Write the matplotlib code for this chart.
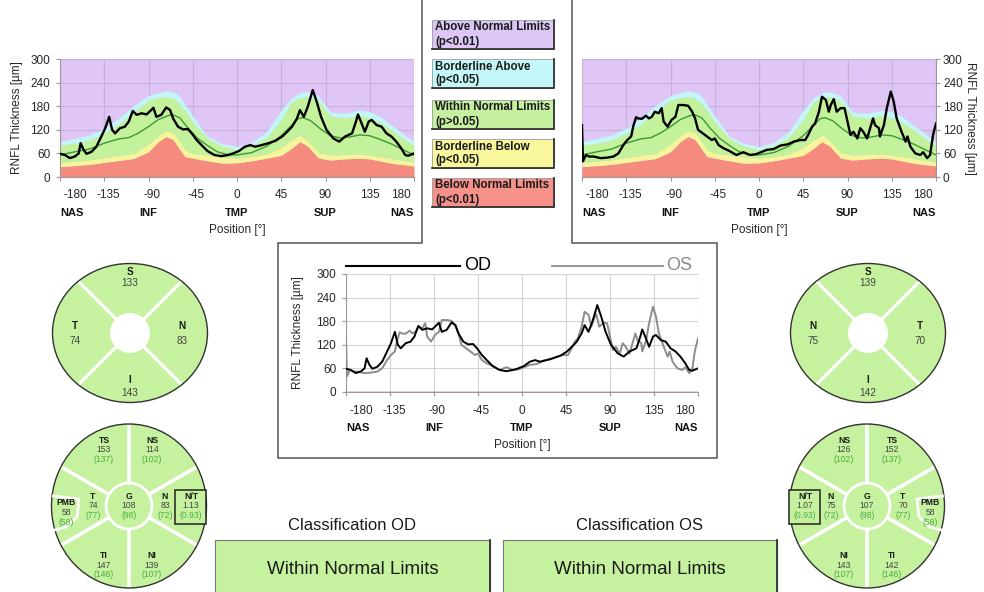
import numpy as np
import matplotlib
matplotlib.use('Agg')
import matplotlib.pyplot as plt
from matplotlib.patches import Ellipse, Rectangle, Circle

plt.rcParams['font.family'] = ['Liberation Sans', 'DejaVu Sans']

# ---------------- data ----------------
ang_ticks = [-180, -135, -90, -45, 0, 45, 90, 135, 180]
ang_tick_labels = ['-180', '-135', '-90', '-45', '0', '45', '90', '135', '180']
region_pos = [-180, -90, 0, 90, 180]
region_names = ['NAS', 'INF', 'TMP', 'SUP', 'NAS']
y_ticks = [0, 60, 120, 180, 240, 300]

norm_deg = [-180, -165, -150, -135, -120, -105, -90, -80, -72, -65, -60, -53, -45, -30, -15,
            0, 15, 30, 45, 55, 64, 72, 83, 95, 110, 125, 135, 145, 157, 170, 180]
p1 = [26, 29, 32, 37, 42, 47, 64, 90, 103, 95, 77, 52, 48, 41, 35,
      36, 41, 48, 55, 72, 90, 78, 48, 43, 46, 48, 46, 41, 35, 31, 28]
p5 = [37, 40, 44, 49, 55, 60, 84, 105, 118, 112, 98, 70, 60, 56, 50,
      48, 52, 58, 75, 93, 107, 92, 62, 56, 57, 58, 56, 52, 47, 42, 38]
p95 = [81, 86, 94, 111, 135, 165, 195, 202, 204, 200, 190, 170, 140, 98, 78,
       69, 80, 100, 145, 190, 202, 204, 193, 155, 150, 156, 150, 140, 120, 96, 81]
p99 = [90, 98, 107, 124, 150, 182, 207, 214, 219, 216, 210, 185, 155, 103, 85,
       77, 88, 115, 170, 200, 214, 217, 206, 165, 162, 170, 166, 155, 132, 108, 90]

mean_deg = [-180, -165, -150, -135, -120, -110, -100, -90, -80, -70, -65, -58, -50, -40, -30,
            -20, -10, 0, 15, 30, 45, 55, 62, 67, 75, 85, 95, 105, 115, 125, 135, 145, 157, 170, 180]
mean_val = [56, 64, 71, 86, 97, 100, 112, 128, 146, 156, 158, 150, 125, 98, 80,
            64, 57, 56, 62, 78, 105, 130, 148, 151, 143, 122, 105, 99, 102, 107, 105, 96, 84, 68, 56]

od_deg = [-180, -175, -170, -165, -161, -159, -156, -153, -148, -143, -138, -134, -130, -127, -124,
          -119, -114, -110, -106, -102, -97, -92, -89, -85, -82, -77, -72, -68, -65, -60,
          -55, -50, -46, -41, -36, -30, -23, -16, -9, -5, 2, 8, 13.5, 18.6, 25,
          32, 39, 46, 51, 56, 61, 64, 68, 72, 77, 81, 85.5, 91, 98, 104,
          110, 117, 121, 123, 126, 130, 134, 137, 142, 147, 152, 157, 162, 167, 171, 174, 180]
od_val = [59, 56, 48, 52, 60, 86, 69, 59, 64, 77, 103, 124, 153, 120, 111,
          124, 128, 141, 168, 158, 162, 159, 166, 176, 153, 158, 177, 170, 149, 128,
          121, 122, 111, 94, 81, 66, 56, 53, 56, 59, 66, 77, 81, 77, 81,
          86, 92, 103, 115, 128, 149, 170, 153, 179, 221, 192, 153, 120, 98, 90,
          103, 111, 141, 159, 141, 115, 141, 145, 132, 128, 111, 103, 90, 73, 56, 54, 60]

os_deg = [-180, -179, -176, -173, -168, -161, -155, -148, -143, -138, -134, -130, -128, -125, -123,
          -119, -115, -112, -109, -106, -102, -99, -97, -93, -89, -85, -82, -77, -72, -68,
          -65, -62, -55, -48, -45, -41, -36, -30, -23, -16, -9, -3, 2, 8, 15,
          22, 29, 35.5, 42, 47, 50, 54, 57, 61, 64, 68, 71, 73, 76, 79,
          83, 87, 90, 93, 96, 100, 103, 106, 110, 113, 116, 118, 122, 123, 127,
          130, 134, 137, 140, 145, 149, 151, 154, 159, 164, 167, 171, 174, 177, 180]
os_val = [132, 40, 56, 52, 52, 48, 49, 52, 60, 81, 94, 103, 128, 152, 149,
          148, 156, 149, 153, 166, 162, 175, 141, 128, 145, 153, 183, 183, 181, 166,
          149, 120, 107, 94, 98, 81, 73, 66, 56, 63, 56, 58, 63, 69, 71,
          80, 83, 90, 94, 94, 107, 128, 136, 166, 204, 196, 166, 183, 198, 166,
          175, 175, 141, 107, 115, 98, 124, 115, 98, 124, 149, 132, 124, 103, 132,
          175, 217, 192, 149, 115, 90, 103, 77, 60, 56, 63, 48, 56, 107, 136]

legend_titles = ['Above Normal Limits', 'Borderline Above', 'Within Normal Limits',
                 'Borderline Below', 'Below Normal Limits']
legend_pvals = ['(p<0.01)', '(p<0.05)', '(p>0.05)', '(p<0.05)', '(p<0.01)']

od_quad_labels = ['S', 'T', 'N', 'I']          # top, left, right, bottom
od_quad_vals = ['133', '74', '83', '143']
os_quad_labels = ['S', 'N', 'T', 'I']
os_quad_vals = ['139', '75', '70', '142']

sector_names = ['TS', 'NS', 'T', 'G', 'N', 'TI', 'NI', 'PMB', 'N/T']
od_sector_vals = ['153', '114', '74', '108', '83', '147', '139', '58', '1.13']
od_sector_norm = ['(137)', '(102)', '(77)', '(98)', '(72)', '(146)', '(107)', '(58)', '(0.93)']
os_sector_vals = ['152', '126', '70', '107', '75', '142', '143', '58', '1.07']
os_sector_norm = ['(137)', '(102)', '(77)', '(98)', '(72)', '(146)', '(107)', '(58)', '(0.93)']

class_titles = ['Classification OD', 'Classification OS']
class_results = ['Within Normal Limits', 'Within Normal Limits']

# ---------------- style ----------------
W, H = 984, 592
PT = 0.72
C_PURPLE = '#dfc6f6'
C_CYAN = '#c3f6f6'
C_GREEN = '#c4f19c'
C_YELLOW = '#f6f59a'
C_RED = '#f58a7e'
C_SECT = '#c6f2a0'
C_NORMTXT = '#4cae44'
TXT = '#262626'
legend_colors = ['#dcc6f6', '#c4f7f7', '#c4f0a0', '#f8f79c', '#f7928a']

fig = plt.figure(figsize=(9.84, 5.92), dpi=100)
bg = fig.add_axes([0, 0, 1, 1])
bg.set_xlim(0, W)
bg.set_ylim(H, 0)
bg.axis('off')


def rect_px(x0, y0, x1, y1):
    return [x0 / W, 1 - y1 / H, (x1 - x0) / W, (y1 - y0) / H]


label_dx = {'-180': 15, '-135': 4, '-90': 3, '-45': 3, '180': -13}


def rnfl_axes(rect, right=False, bands=True):
    ax = fig.add_axes(rect)
    ax.set_xlim(-180, 180)
    ax.set_ylim(0, 300)
    ax.set_facecolor(C_PURPLE if bands else 'white')
    ax.set_axisbelow(True)
    ax.set_xticks(ang_ticks)
    ax.set_xticklabels([])
    ax.set_yticks(y_ticks)
    ax.grid(True, color='#c5b3d8' if bands else '#d4d4d4', lw=0.8)
    for s in ['top', 'right', 'left', 'bottom']:
        ax.spines[s].set_visible(False)
    ax.spines['bottom'].set_visible(True)
    ax.spines['bottom'].set_color('#999999')
    side = 'right' if right else 'left'
    ax.spines[side].set_visible(True)
    ax.spines[side].set_color('#999999')
    ax.tick_params(axis='x', length=3, color='#999999', width=0.8)
    ax.tick_params(axis='y', length=3, color='#999999', width=0.8, labelsize=8.5,
                   labelcolor=TXT, pad=2 if right else 4)
    if right:
        ax.yaxis.tick_right()
    for d, t in zip(ang_ticks, ang_tick_labels):
        ax.annotate(t, xy=(d, 0), xycoords=('data', 'axes fraction'),
                    xytext=(label_dx.get(t, 0) * PT, -18.5 * PT), textcoords='offset points',
                    ha='center', va='center', fontsize=8.5, color=TXT)
    for d, t in zip(region_pos, region_names):
        ha = 'left' if d == -180 else ('right' if d == 180 else 'center')
        ax.annotate(t, xy=(d, 0), xycoords=('data', 'axes fraction'),
                    xytext=(0, -36 * PT), textcoords='offset points',
                    ha=ha, va='center', fontsize=8, fontweight='bold', color='#111111')
    ax.annotate('Position [°]', xy=(0, 0), xycoords=('data', 'axes fraction'),
                xytext=(0, -53 * PT), textcoords='offset points',
                ha='center', va='center', fontsize=8.5, color=TXT)
    return ax


def add_bands(ax, curve_deg, curve_val):
    ax.fill_between(norm_deg, 0, p1, color=C_RED, lw=0, zorder=1)
    ax.fill_between(norm_deg, p1, p5, color=C_YELLOW, lw=0, zorder=1)
    ax.fill_between(norm_deg, p5, p95, color=C_GREEN, lw=0, zorder=1)
    ax.fill_between(norm_deg, p95, p99, color=C_CYAN, lw=0, zorder=1)
    ax.plot(mean_deg, mean_val, color='#3a9a34', lw=1.0, zorder=2)
    ax.plot(curve_deg, curve_val, color='black', lw=1.7, zorder=3)


# top-left (OD)
axL = rnfl_axes(rect_px(60, 59, 414, 177))
add_bands(axL, od_deg, od_val)
axL.annotate('RNFL Thickness [µm]', xy=(0, 0.5), xycoords='axes fraction',
             xytext=(-43 * PT, 0), textcoords='offset points', rotation=90,
             ha='center', va='center', fontsize=8.5, color=TXT)

# top-right (OS)
axR = rnfl_axes(rect_px(582, 59, 936, 177), right=True)
add_bands(axR, os_deg, os_val)
axR.annotate('RNFL Thickness [µm]', xy=(1, 0.5), xycoords='axes fraction',
             xytext=(34 * PT, 0), textcoords='offset points', rotation=270,
             ha='center', va='center', fontsize=8.5, color=TXT)

# center comparison
axC = rnfl_axes(rect_px(346, 274, 698, 392), bands=False)
axC.plot(os_deg, os_val, color='#8c8c8c', lw=1.4, zorder=3)
axC.plot(od_deg, od_val, color='black', lw=1.4, zorder=4)
axC.axhline(0, color='#b04848', lw=1.0, zorder=5)
axC.annotate('RNFL Thickness [µm]', xy=(0, 0.5), xycoords='axes fraction',
             xytext=(-48 * PT, 0), textcoords='offset points', rotation=90,
             ha='center', va='center', fontsize=8.5, color=TXT)

# legend of centre chart
bg.plot([346, 460], [266, 266], color='black', lw=1.5)
bg.text(464, 266, 'OD', fontsize=13, va='center', ha='left', color='black')
bg.plot([552, 663], [266, 266], color='#8c8c8c', lw=1.3)
bg.text(666, 266, 'OS', fontsize=13, va='center', ha='left', color='#8c8c8c')

# frame lines
bg.plot([422, 422, 278, 278, 717, 717, 572, 572], [0, 243, 243, 458, 458, 243, 243, 0],
        color='#555555', lw=1.1, solid_joinstyle='miter')

# legend boxes
box_tops = [20, 59, 100, 139, 178]
for top, c, t1, t2 in zip(box_tops, legend_colors, legend_titles, legend_pvals):
    bg.add_patch(Rectangle((432, top), 122, 29, facecolor=c, edgecolor='#9a9a9a', lw=0.6))
    bg.plot([432, 554, 554], [top + 29, top + 29, top], color='#333333', lw=1.3)
    bg.text(435, top + 7.5, t1, fontsize=8.3, fontweight='bold', va='center', ha='left', color='#1a1a1a')
    bg.text(435, top + 21.5, t2, fontsize=8.3, fontweight='bold', va='center', ha='left', color='#1a1a1a')


def ell_pt(cx, cy, a, b, t, r0):
    ct, st = np.cos(np.radians(t)), np.sin(np.radians(t))
    r = 1.0 / np.sqrt((ct / a) ** 2 + (st / b) ** 2)
    return (cx + r0 * ct, cy - r0 * st), (cx + r * ct, cy - r * st)


def quad_circle(cx, cy, labels, vals):
    a, b = 77.5, 69.5
    bg.add_patch(Ellipse((cx, cy), 2 * a, 2 * b, facecolor=C_SECT, edgecolor='#333333', lw=1.0))
    for t in [45, 135, 225, 315]:
        p0, p1_ = ell_pt(cx, cy, a - 1, b - 1, t, 18)
        bg.plot([p0[0], p1_[0]], [p0[1], p1_[1]], color='white', lw=2.4, solid_capstyle='butt')
    bg.add_patch(Circle((cx, cy), 20, facecolor='white', edgecolor='none'))
    offs = [(0, -61, -49.5), (-55, -7, 7.5), (52, -7, 7.5), (0, 47, 60)]
    for (dx, dy1, dy2), lab, v in zip(offs, labels, vals):
        bg.text(cx + dx, cy + dy1, lab, fontsize=7.2, fontweight='bold', ha='center', va='center', color='#1a1a1a')
        bg.text(cx + dx, cy + dy2, v, fontsize=7.2, ha='center', va='center', color='#444444')


quad_circle(130, 333, od_quad_labels, od_quad_vals)
quad_circle(868, 333, os_quad_labels, os_quad_vals)

# sector layout in OD orientation (temporal on the left); mirrored for OS
# (dx, dy of the middle text row)
sector_pos = {'TS': (-25, -56), 'NS': (23, -56), 'T': (-36, 0), 'G': (0, 0), 'N': (36, 0),
              'TI': (-25, 59), 'NI': (23, 59), 'PMB': (-63, 6.5), 'N/T': (62, 0)}
notch = [(-75.5, -10), (-50, -7), (-52, 11), (-63, 21), (-74.5, 24)]
STEP = 9.8
SFS = 6.2


def sector_circle(cx, cy, vals, norms, m):
    a, b = 77.5, 82
    bg.add_patch(Ellipse((cx, cy), 2 * a, 2 * b, facecolor=C_SECT, edgecolor='#333333', lw=1.0))
    for t in [30, 90, 150, 210, 270, 330]:
        p0, p1_ = ell_pt(cx, cy, a - 1, b - 1, t, 23)
        bg.plot([p0[0], p1_[0]], [p0[1], p1_[1]], color='white', lw=2.6, solid_capstyle='butt')
    bg.add_patch(Circle((cx, cy), 23, facecolor='none', edgecolor='white', lw=2.0))
    bg.plot([cx + m * x for x, _ in notch], [cy + y for _, y in notch], color='white', lw=2.0)
    bx0 = cx + m * 46
    bx1 = cx + m * 78
    bg.add_patch(Rectangle((min(bx0, bx1), cy - 16), 31, 34, facecolor=C_SECT,
                           edgecolor='#222222', lw=1.1))
    for name, v, nv in zip(sector_names, vals, norms):
        dx, dy = sector_pos[name]
        x = cx + m * dx
        bg.text(x, cy + dy - STEP, name, fontsize=SFS, fontweight='bold', ha='center', va='center', color='#1a1a1a')
        bg.text(x, cy + dy, v, fontsize=SFS, ha='center', va='center', color='#444444')
        bg.text(x, cy + dy + STEP, nv, fontsize=SFS, ha='center', va='center', color=C_NORMTXT)


sector_circle(129, 506, od_sector_vals, od_sector_norm, 1)
sector_circle(867, 506, os_sector_vals, os_sector_norm, -1)

# classification boxes
for (x0, x1), title, res in zip([(215, 490), (503, 777)], class_titles, class_results):
    xc = (x0 + x1) / 2
    bg.text(xc, 525, title, fontsize=12, ha='center', va='center', color='#1a1a1a')
    bg.add_patch(Rectangle((x0, 540), x1 - x0, 70, facecolor=C_SECT, edgecolor='#777777', lw=0.8))
    bg.plot([x1, x1], [540, 592], color='#333333', lw=1.3)
    bg.text(xc, 570, res, fontsize=13.5, ha='center', va='center', color='#1a1a1a')

fig.savefig('out.png', dpi=100)
